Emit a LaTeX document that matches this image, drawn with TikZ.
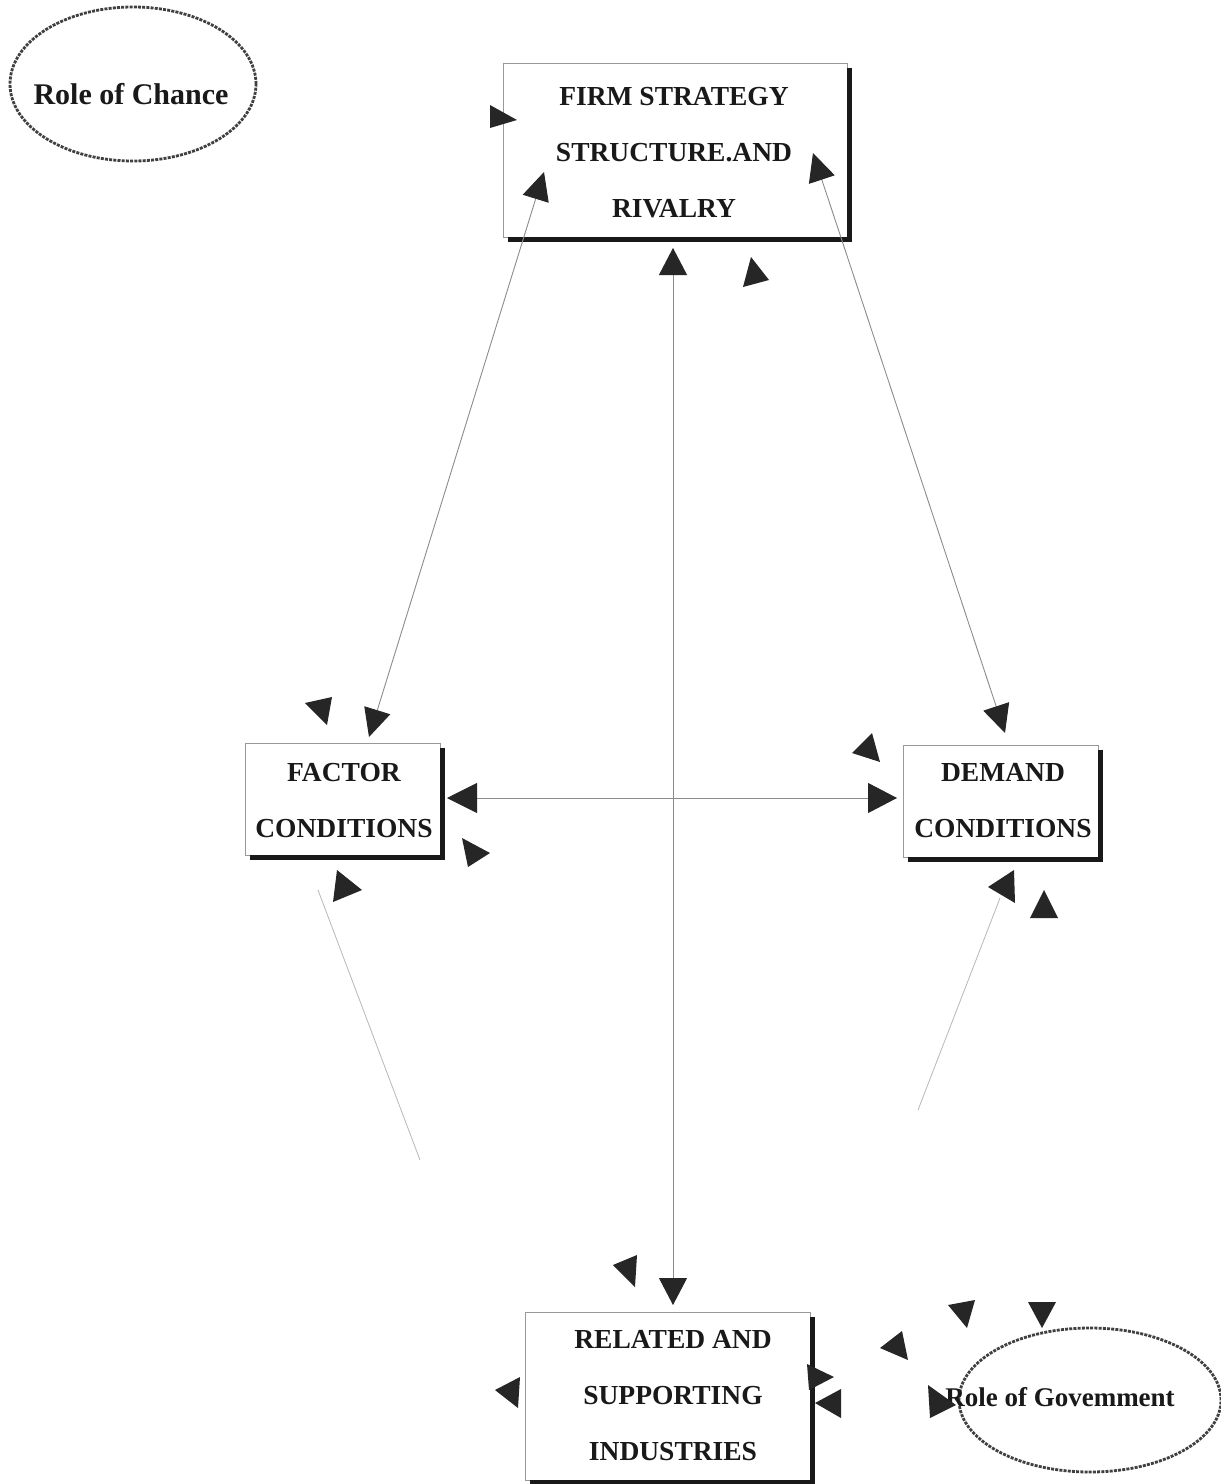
\documentclass[tikz,border=0pt]{standalone}
\usepackage{fontspec}
\setmainfont{Liberation Serif}
\usetikzlibrary{arrows.meta,shapes.geometric}
\newcommand\arrowtri[3]{\fill[tipfill] #1 -- #2 -- #3 -- cycle;}
\begin{document}
\begin{tikzpicture}[x=1pt,y=-1pt,
  box/.style={draw=black!40, line width=0.7pt, fill=white, inner sep=0pt},
  shadowline/.style={line width=5pt, draw=black!90, line cap=butt},
  lbl/.style={font=\fontsize{27.5}{56}\selectfont\bfseries, align=center, inner sep=0pt, text=black!90},
  ovaltxt/.style={inner sep=0pt, text=black!90},
  conn/.style={draw=black!45, line width=0.9pt},
  faint/.style={draw=black!28, line width=0.8pt},
  tipfill/.style={fill=black!85},
  oval/.style={ellipse, draw=black!75, line width=2.8pt, dash pattern=on 3pt off 1.2pt, inner sep=0pt}]
\fill[white] (0,0) rectangle (1221,1484);
\useasboundingbox (0,0) rectangle (1221,1484);

% ellipses
\node[oval, minimum width=246pt, minimum height=154pt] (chance) at (133,84) {};
\node[ovaltxt, font=\fontsize{30}{36}\selectfont\bfseries] (chancetxt) at (131,94) {Role of Chance};
\node[oval, minimum width=262pt, minimum height=144pt] (gov) at (1090,1400) {};
\node[ovaltxt, font=\fontsize{27}{32}\selectfont\bfseries] (govtxt) at (1060,1397) {Role of Govemment};

% boxes
\node[box, minimum width=344pt, minimum height=174pt] (firm) at (675,150) {};
\node[box, minimum width=195pt, minimum height=112pt] (factor) at (342.5,799) {};
\node[box, minimum width=195pt, minimum height=112pt] (demand) at (1000.5,801) {};
\node[box, minimum width=285pt, minimum height=168pt] (related) at (667.5,1396) {};

\foreach \b in {firm,factor,demand,related}{
  \draw[shadowline] ([xshift=2.5pt,yshift=-5pt]\b.north east) -- ([xshift=2.5pt,yshift=-5pt]\b.south east);
  \draw[shadowline] ([xshift=5pt,yshift=-2.5pt]\b.south west) -- ([xshift=5pt,yshift=-2.5pt]\b.south east);
}

\node[lbl] (firmtxt) at (674,153) {FIRM STRATEGY\\STRUCTURE.AND\\RIVALRY};
\node[lbl] (factortxt) at (344,801) {FACTOR\\CONDITIONS};
\node[lbl] (demandtxt) at (1003,801) {DEMAND\\CONDITIONS};
\node[lbl] (relatedtxt) at (673,1396) {RELATED AND\\SUPPORTING\\INDUSTRIES};

% connector end points
\coordinate (vT) at (673,248);
\coordinate (vB) at (673,1305);
\coordinate (hL) at (447,798);
\coordinate (hR) at (897,798);
\coordinate (ffT) at (544,172);
\coordinate (ffB) at (369,737);
\coordinate (fdT) at (813,153);
\coordinate (fdB) at (1005,733);
\coordinate (frA) at (318,890);
\coordinate (frB) at (420,1160);
\coordinate (drA) at (1000,898);
\coordinate (drB) at (918,1110);

\draw[conn, {Triangle[length=27pt,width=28pt,color=black!85]}-{Triangle[length=27pt,width=28pt,color=black!85]}] (vT) -- (vB);
\draw[conn, {Triangle[length=30pt,width=30pt,color=black!85]}-{Triangle[length=29pt,width=30pt,color=black!85]}] (hL) -- (hR);
\draw[conn, {Triangle[length=28pt,width=27pt,color=black!85]}-{Triangle[length=28pt,width=27pt,color=black!85]}] (ffT) -- (ffB);
\draw[conn, {Triangle[length=28pt,width=27pt,color=black!85]}-{Triangle[length=28pt,width=27pt,color=black!85]}] (fdT) -- (fdB);
\draw[faint] (frA) -- (frB);
\draw[faint] (drA) -- (drB);

% stray arrowheads
\arrowtri{(490,105)}{(517,120)}{(490,128)}
\arrowtri{(743,287)}{(751,257)}{(769,280)}
\arrowtri{(305,703)}{(332,697)}{(327,725)}
\arrowtri{(462,838)}{(490,853)}{(468,867)}
\arrowtri{(337,870)}{(362,890)}{(333,902)}
\arrowtri{(852,753)}{(872,733)}{(880,762)}
\arrowtri{(988,887)}{(1014,870)}{(1015,903)}
\arrowtri{(1030,918)}{(1044,890)}{(1058,918)}
\arrowtri{(613,1265)}{(637,1255)}{(635,1287)}
\arrowtri{(495,1390)}{(520,1377)}{(518,1408)}
\arrowtri{(807,1364)}{(834,1377)}{(809,1390)}
\arrowtri{(815,1403)}{(841,1389)}{(841,1418)}
\arrowtri{(880,1348)}{(902,1331)}{(908,1360)}
\arrowtri{(948,1305)}{(975,1300)}{(967,1328)}
\arrowtri{(1028,1302)}{(1056,1302)}{(1042,1328)}
\arrowtri{(928,1385)}{(956,1405)}{(930,1418)}
\end{tikzpicture}
\end{document}
